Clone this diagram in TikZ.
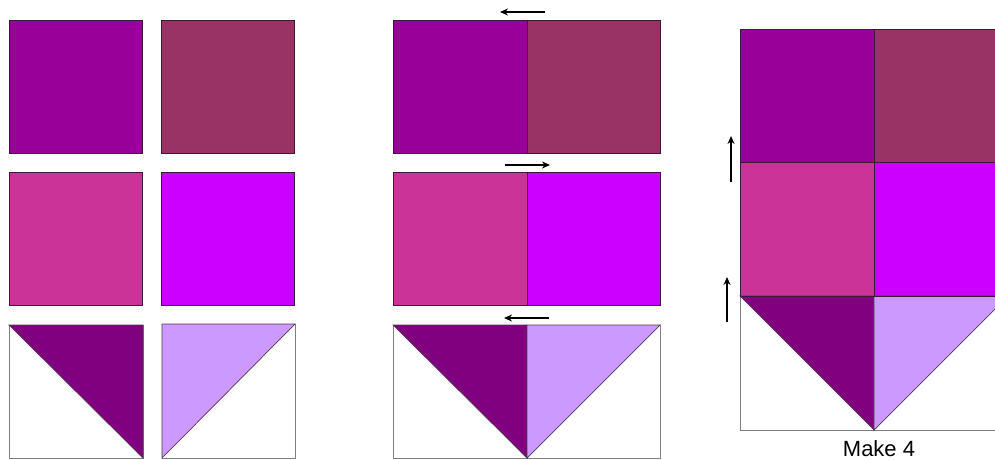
\documentclass[tikz,border=0pt]{standalone}
\usepackage{fontspec}
\setmainfont{Liberation Sans}
\usetikzlibrary{arrows.meta}
\definecolor{cA}{HTML}{990099}
\definecolor{cB}{HTML}{993366}
\definecolor{cC}{HTML}{CC3399}
\definecolor{cD}{HTML}{CC00FF}
\definecolor{cE}{HTML}{800080}
\definecolor{cF}{HTML}{CC99FF}
\definecolor{edge}{HTML}{3A1A3A}
\definecolor{greyedge}{HTML}{808080}
\tikzset{
  patch/.style={draw=edge, line width=0.9pt},
  blank/.style={draw=greyedge, fill=white, line width=1pt},
  tri/.style={draw=edge!70!greyedge, line width=0.7pt},
  pressarrow/.style={-{Stealth[length=8pt,width=7pt]}, line width=1.3pt, black}
}
\begin{document}
\begin{tikzpicture}[x=1pt,y=-1pt]
\useasboundingbox (0,0) rectangle (995,460);
\clip (0,0) rectangle (995,460);
% ---- left column: separate patches
\draw[patch, fill=cA] (9,20) rectangle (142,153);
\draw[patch, fill=cB] (161,20) rectangle (294,153);
\draw[patch, fill=cC] (9,172) rectangle (142,305);
\draw[patch, fill=cD] (161,172) rectangle (294,305);
\draw[blank] (9,325) rectangle (143,458);
\draw[tri, fill=cE] (9,325) -- (143,325) -- (143,458) -- cycle;
\draw[blank] (162,324) rectangle (295,458);
\draw[tri, fill=cF] (162,324) -- (295,324) -- (162,458) -- cycle;
% ---- middle column: rows sewn
\draw[patch, fill=cA] (393,20) rectangle (527,153);
\draw[patch, fill=cB] (527,20) rectangle (660,153);
\draw[patch, fill=cC] (393,172) rectangle (527,305);
\draw[patch, fill=cD] (527,172) rectangle (660,305);
\draw[blank] (393,325) rectangle (660,458);
\draw[tri, fill=cE] (393,325) -- (527,325) -- (527,458) -- cycle;
\draw[tri, fill=cF] (527,325) -- (660,325) -- (527,458) -- cycle;
\coordinate (m1s) at (545,12); \coordinate (m1e) at (500,12);
\coordinate (m2s) at (505,165); \coordinate (m2e) at (550,165);
\coordinate (m3s) at (549,318); \coordinate (m3e) at (504,318);
\draw[pressarrow] (m1s) -- (m1e);
\draw[pressarrow] (m2s) -- (m2e);
\draw[pressarrow] (m3s) -- (m3e);
% ---- right column: finished block
\draw[patch, fill=cA] (740,29) rectangle (874,162);
\draw[patch, fill=cB] (874,29) rectangle (1008,162);
\draw[patch, fill=cC] (740,162) rectangle (874,296);
\draw[patch, fill=cD] (874,162) rectangle (1008,296);
\draw[blank] (740,296) rectangle (1008,430);
\draw[tri, fill=cE] (740,296) -- (874,296) -- (874,430) -- cycle;
\draw[tri, fill=cF] (874,296) -- (1008,296) -- (874,430) -- cycle;
\draw[patch] (740,296) -- (1008,296);
\coordinate (r1s) at (731,182); \coordinate (r1e) at (731,136);
\coordinate (r2s) at (727,322); \coordinate (r2e) at (727,277);
\draw[pressarrow] (r1s) -- (r1e);
\draw[pressarrow] (r2s) -- (r2e);
\node[font=\fontsize{22}{24}\selectfont, inner sep=0pt, anchor=base] (label) at (879,456) {Make 4};
\end{tikzpicture}
\end{document}
